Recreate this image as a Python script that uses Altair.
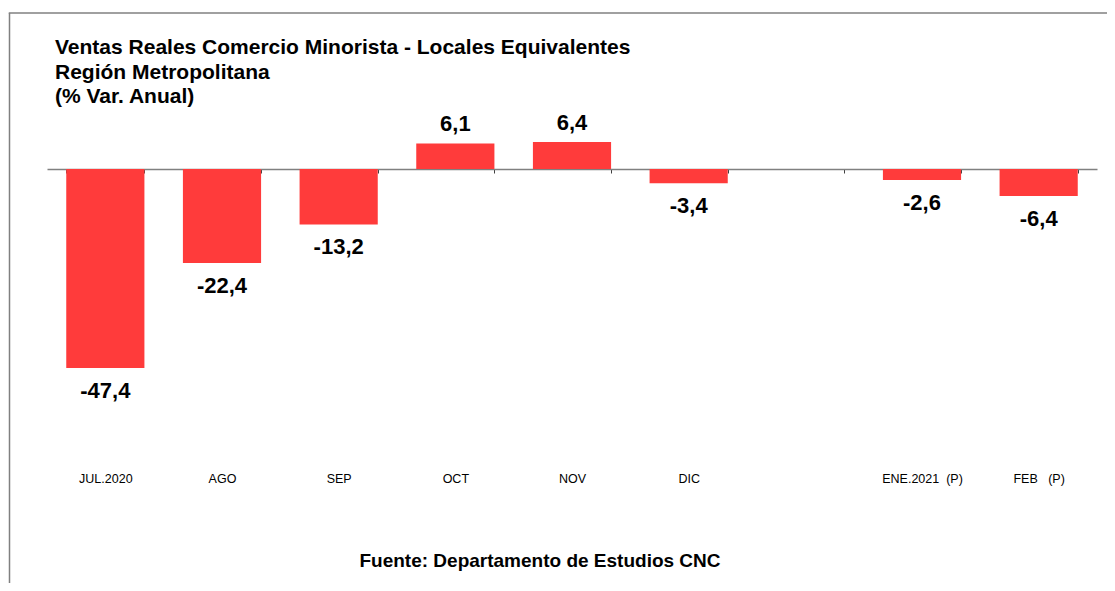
import altair as alt
import pandas as pd

categories = ["JUL.2020", "AGO", "SEP", "OCT", "NOV", "DIC", " ",
              "ENE.2021\u00a0\u00a0(P)", "FEB\u00a0\u00a0\u00a0(P)"]
values = [-47.4, -22.4, -13.2, 6.1, 6.4, -3.4, None, -2.6, -6.4]

title_lines = ["Ventas Reales Comercio Minorista - Locales Equivalentes",
               "Región Metropolitana",
               "(% Var. Anual)"]
source = "Fuente: Departamento de Estudios CNC"

df = pd.DataFrame({"mes": categories, "var": values})

FONT = "Liberation Sans"
RED = "#FF3B3B"

x_enc = alt.X(
    "mes:N",
    sort=categories,
    scale=alt.Scale(domain=categories, paddingInner=0.33, paddingOuter=0.165),
    axis=alt.Axis(
        title=source,
        orient="bottom",
        offset=-311,
        labelAngle=0,
        tickBand="extent",
        domainColor="#808080",
        domainWidth=1.5,
        tickColor="#404040",
        tickSize=4,
        tickWidth=1,
        labelFont=FONT,
        labelFontSize=12.5,
        labelColor="black",
        labelPadding=305,
        labelBaseline="middle",
        titleFont=FONT,
        titleFontSize=19,
        titleFontWeight="bold",
        titleColor="black",
        titleX=492.5,
        titleY=391,
        titleAlign="center",
        titleBaseline="middle",
        grid=False,
    ),
)
y_enc = alt.Y("var:Q", scale=alt.Scale(domain=[-74.048, 14.048], nice=False, zero=True), axis=None)

base = alt.Chart(df)

bars = base.mark_bar(color=RED).encode(x=x_enc, y=y_enc)

lab = base.transform_calculate(
    label="(datum.var < 0 ? '-' : '') + replace(format(abs(datum.var), '.1f'), '.', ',')"
)
pos = lab.transform_filter("datum.var > 0").mark_text(
    dy=-19, font=FONT, fontSize=22, fontWeight="bold", color="black", baseline="middle"
).encode(x=x_enc, y=y_enc, text="label:N")
neg = lab.transform_filter("datum.var < 0").mark_text(
    dy=23, font=FONT, fontSize=22, fontWeight="bold", color="black", baseline="middle"
).encode(x=x_enc, y=y_enc, text="label:N")

frame_df = pd.DataFrame({"k": [0]})
frame_v = alt.Chart(frame_df).mark_rule(color="#808080", strokeWidth=1.5).encode(
    x=alt.value(-37.5), y=alt.value(-97), y2=alt.value(700)
)
frame_h = alt.Chart(frame_df).mark_rule(color="#808080", strokeWidth=1.5).encode(
    x=alt.value(-38.25), x2=alt.value(1100), y=alt.value(-97)
)

chart = alt.layer(frame_v, frame_h, bars, pos, neg).properties(
    width=1050,
    height=370,
    padding={"left": 39, "top": 102, "right": 10, "bottom": 103},
    autosize=alt.AutoSizeParams(type="none"),
    title=alt.TitleParams(
        text=title_lines,
        anchor="start",
        frame="group",
        dx=8,
        offset=-95,
        font=FONT,
        fontSize=21,
        fontWeight="bold",
        lineHeight=24.5,
        color="black",
    ),
).configure_view(stroke=None)

chart.save("out.html", embed_options={"renderer": "svg", "actions": False})
